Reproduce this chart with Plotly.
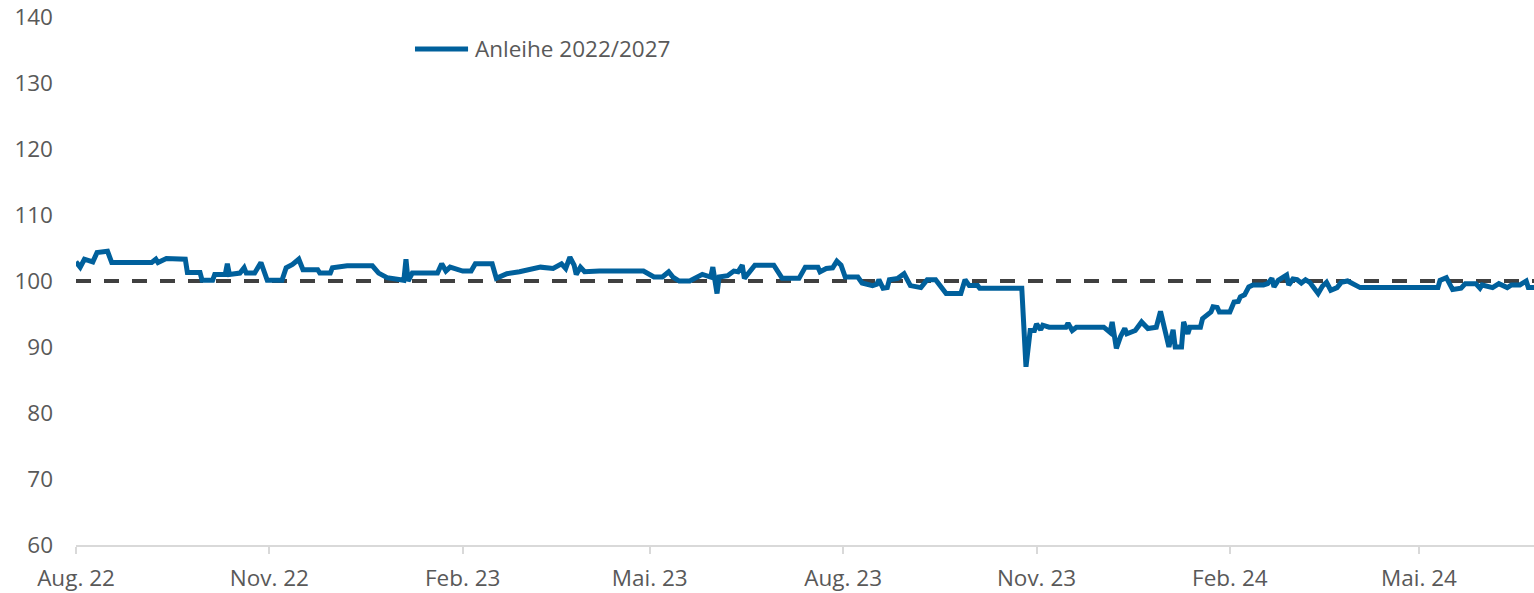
import plotly.graph_objects as go

dates = [
    "2022-08-01", "2022-08-03", "2022-08-05", "2022-08-09", "2022-08-11", "2022-08-16", "2022-08-18",
    "2022-09-06", "2022-09-08", "2022-09-09", "2022-09-13", "2022-09-22", "2022-09-23", "2022-09-29",
    "2022-09-30", "2022-10-05", "2022-10-06", "2022-10-11", "2022-10-12", "2022-10-13", "2022-10-18",
    "2022-10-20", "2022-10-21", "2022-10-25", "2022-10-28", "2022-10-31", "2022-11-07", "2022-11-09",
    "2022-11-12", "2022-11-15", "2022-11-17", "2022-11-24", "2022-11-25", "2022-11-30", "2022-12-01",
    "2022-12-08", "2022-12-20", "2022-12-23", "2022-12-27", "2023-01-02", "2023-01-04", "2023-01-05",
    "2023-01-06", "2023-01-08", "2023-01-20", "2023-01-22", "2023-01-24", "2023-01-26", "2023-02-01",
    "2023-02-05", "2023-02-07", "2023-02-15", "2023-02-17", "2023-02-22", "2023-02-28", "2023-03-10",
    "2023-03-16", "2023-03-20", "2023-03-22", "2023-03-24", "2023-03-26", "2023-03-27", "2023-03-29",
    "2023-03-31", "2023-04-07", "2023-04-28", "2023-05-03", "2023-05-07", "2023-05-10", "2023-05-12",
    "2023-05-15", "2023-05-20", "2023-05-26", "2023-05-30", "2023-05-31", "2023-06-02", "2023-06-03",
    "2023-06-07", "2023-06-10", "2023-06-12", "2023-06-14", "2023-06-15", "2023-06-18", "2023-06-20",
    "2023-06-29", "2023-07-03", "2023-07-11", "2023-07-14", "2023-07-20", "2023-07-21", "2023-07-24",
    "2023-07-27", "2023-07-29", "2023-07-31", "2023-08-02", "2023-08-08", "2023-08-10", "2023-08-15",
    "2023-08-17", "2023-08-18", "2023-08-20", "2023-08-22", "2023-08-23", "2023-08-27", "2023-08-30",
    "2023-09-02", "2023-09-07", "2023-09-10", "2023-09-14", "2023-09-19", "2023-09-26", "2023-09-28",
    "2023-09-30", "2023-10-04", "2023-10-05", "2023-10-25", "2023-10-27", "2023-10-29", "2023-10-31",
    "2023-11-01", "2023-11-03", "2023-11-04", "2023-11-07", "2023-11-15", "2023-11-16", "2023-11-18",
    "2023-11-20", "2023-12-03", "2023-12-06", "2023-12-07", "2023-12-09", "2023-12-11", "2023-12-13",
    "2023-12-14", "2023-12-18", "2023-12-21", "2023-12-24", "2023-12-28", "2023-12-30", "2024-01-03",
    "2024-01-05", "2024-01-06", "2024-01-09", "2024-01-10", "2024-01-12", "2024-01-13", "2024-01-18",
    "2024-01-19", "2024-01-23", "2024-01-24", "2024-01-26", "2024-01-27", "2024-02-01", "2024-02-03",
    "2024-02-05", "2024-02-06", "2024-02-08", "2024-02-10", "2024-02-12", "2024-02-17", "2024-02-19",
    "2024-02-21", "2024-02-22", "2024-02-24", "2024-02-28", "2024-02-29", "2024-03-02", "2024-03-04",
    "2024-03-06", "2024-03-08", "2024-03-10", "2024-03-14", "2024-03-16", "2024-03-18", "2024-03-20",
    "2024-03-23", "2024-03-25", "2024-03-28", "2024-04-03", "2024-05-10", "2024-05-11", "2024-05-14",
    "2024-05-17", "2024-05-21", "2024-05-23", "2024-05-28", "2024-05-30", "2024-05-31", "2024-06-05",
    "2024-06-08", "2024-06-12", "2024-06-14", "2024-06-18", "2024-06-21", "2024-06-22", "2024-06-25",
]

anleihe_2022_2027 = [
    102.9, 102.1, 103.3, 102.9, 104.3, 104.5, 102.8,
    102.8, 103.3, 102.8, 103.4, 103.3, 101.3, 101.3,
    100.1, 100.1, 101.0, 101.0, 102.6, 101.0, 101.2,
    102.0, 101.2, 101.2, 102.8, 100.1, 100.1, 102.0,
    102.5, 103.3, 101.7, 101.7, 101.2, 101.2, 102.0,
    102.3, 102.3, 101.2, 100.5, 100.1, 100.1, 103.3,
    100.0, 101.2, 101.2, 102.6, 101.5, 102.1, 101.5,
    101.5, 102.6, 102.6, 100.4, 101.1, 101.4, 102.1,
    101.9, 102.6, 101.9, 103.6, 102.4, 101.0, 102.1,
    101.4, 101.5, 101.5, 100.6, 100.6, 101.4, 100.6,
    100.0, 100.0, 101.0, 100.6, 102.1, 98.1, 100.6,
    100.8, 101.5, 101.4, 102.4, 100.4, 101.5, 102.4,
    102.4, 100.4, 100.4, 102.1, 102.1, 101.4, 101.9,
    102.0, 103.0, 102.4, 100.6, 100.6, 99.7, 99.3,
    99.5, 100.2, 98.9, 99.0, 100.2, 100.4, 101.1,
    99.3, 99.0, 100.2, 100.2, 98.1, 98.1, 100.2,
    99.3, 99.3, 98.9, 98.9, 87.0, 92.5, 92.5,
    93.5, 92.6, 93.3, 93.0, 93.0, 93.6, 92.5,
    93.0, 93.0, 92.2, 93.8, 89.8, 91.6, 92.8,
    92.0, 92.5, 93.8, 92.8, 93.0, 95.4, 90.0,
    92.6, 90.0, 90.0, 93.8, 92.0, 93.0, 93.0,
    94.3, 95.3, 96.1, 96.0, 95.3, 95.3, 96.8,
    96.9, 97.6, 97.9, 99.1, 99.4, 99.4, 99.6,
    100.4, 99.1, 100.1, 100.9, 99.4, 100.3, 100.2,
    99.7, 100.2, 99.8, 98.1, 99.2, 99.8, 98.6,
    99.0, 99.8, 100.0, 99.0, 99.0, 100.1, 100.5,
    98.7, 98.9, 99.6, 99.6, 98.9, 99.4, 99.0,
    99.6, 99.0, 99.4, 99.4, 100.0, 99.0, 99.0,
]

series_name = "Anleihe 2022/2027"
reference_level = 100
tick_dates = ["2022-08-01", "2022-11-01", "2023-02-01", "2023-05-01",
              "2023-08-01", "2023-11-01", "2024-02-01", "2024-05-01"]
tick_labels = ["Aug. 22", "Nov. 22", "Feb. 23", "Mai. 23",
               "Aug. 23", "Nov. 23", "Feb. 24", "Mai. 24"]
y_ticks = [60, 70, 80, 90, 100, 110, 120, 130, 140]

BLUE = "#00609c"
TEXT = "#595959"
FONT = "Open Sans"
FS = 22.5

fig = go.Figure()
fig.add_trace(go.Scatter(
    x=dates, y=anleihe_2022_2027, mode="lines", name=series_name,
    line=dict(color=BLUE, width=5), showlegend=False, hoverinfo="skip",
))

# reference line at 100
fig.add_shape(type="line", xref="paper", yref="y", x0=0, x1=1,
              y0=reference_level, y1=reference_level,
              line=dict(color="#404040", width=4, dash="15px,13px"), layer="below")

# legend (manual)
fig.add_shape(type="line", xref="paper", yref="paper", x0=0.2325, x1=0.2689,
              y0=0.9394, y1=0.9394, line=dict(color=BLUE, width=5))
fig.add_annotation(text=series_name, xref="paper", yref="paper", x=0.2723, y=0.9394,
                   xanchor="left", yanchor="middle", showarrow=False,
                   font=dict(family=FONT, size=FS, color=TEXT))

fig.update_layout(
    width=1534, height=593,
    margin=dict(l=76, r=0, t=17, b=48),
    paper_bgcolor="white", plot_bgcolor="white",
    font=dict(family=FONT, size=FS, color=TEXT),
    xaxis=dict(
        type="date", range=["2022-08-01", "2024-06-24 17:00"],
        tickmode="array", tickvals=tick_dates, ticktext=tick_labels,
        showgrid=False, zeroline=False, automargin=False,
        showline=True, linecolor="#d9d9d9", linewidth=2,
        ticks="outside", ticklen=7, tickcolor="#d9d9d9", tickwidth=2,
        ticklabelstandoff=5,
        tickfont=dict(family=FONT, size=FS, color=TEXT),
    ),
    yaxis=dict(
        range=[60, 140], tickmode="array", tickvals=y_ticks,
        showgrid=False, zeroline=False, showline=False, ticks="",
        ticklabelstandoff=22, automargin=False,
        tickfont=dict(family=FONT, size=FS, color=TEXT),
    ),
)

fig.write_html(
    "out.html",
    config={"displayModeBar": False},
    post_script="document.body.style.margin='0';document.body.style.overflow='hidden';",
)
